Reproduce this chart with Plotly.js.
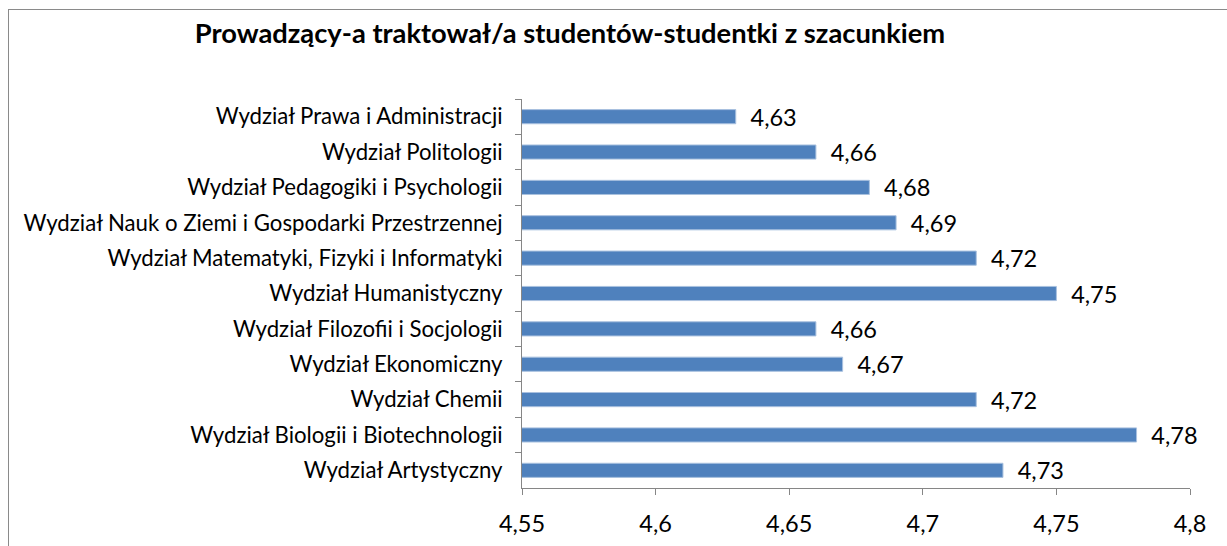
<!DOCTYPE html>
<html>
<head>
<meta charset="utf-8">
<script src="https://cdn.plot.ly/plotly-3.0.1.min.js"></script>
<style>
  html, body { margin: 0; padding: 0; background: #fff; overflow: hidden; }
  #chart { width: 1227px; height: 546px; position: absolute; left: 0; top: 0; }
  #frame { position: absolute; left: 8px; top: 9px; width: 1400px; height: 800px;
           border: 1.5px solid #8a8a8a; pointer-events: none; box-sizing: border-box; }
</style>
</head>
<body>
<div id="chart"></div>
<div id="frame"></div>
<script>
const categories = [
  "Wydział Prawa i Administracji",
  "Wydział Politologii",
  "Wydział Pedagogiki i Psychologii",
  "Wydział Nauk o Ziemi i Gospodarki Przestrzennej",
  "Wydział Matematyki, Fizyki i Informatyki",
  "Wydział Humanistyczny",
  "Wydział Filozofii i Socjologii",
  "Wydział Ekonomiczny",
  "Wydział Chemii",
  "Wydział Biologii i Biotechnologii",
  "Wydział Artystyczny"
];
const values = [4.63, 4.66, 4.68, 4.69, 4.72, 4.75, 4.66, 4.67, 4.72, 4.78, 4.73];
const valueLabels = ["4,63", "4,66", "4,68", "4,69", "4,72", "4,75", "4,66", "4,67", "4,72", "4,78", "4,73"];
const xTickVals = [4.55, 4.6, 4.65, 4.7, 4.75, 4.8];
const xTickText = ["4,55", "4,6", "4,65", "4,7", "4,75", "4,8"];
const titleText = "Prowadzący-a traktował/a studentów-studentki z szacunkiem";

const FONT = "Lato, 'Open Sans', sans-serif";

const trace = {
  type: "bar",
  orientation: "h",
  y: categories,
  x: values,
  width: 0.4,
  marker: { color: "#4F81BD", line: { color: "#A9C1DF", width: 1 } },
  text: valueLabels,
  texttemplate: "\u2002%{text}",
  textposition: "outside",
  cliponaxis: false,
  constraintext: "none",
  textfont: { family: FONT, size: 23.5, color: "#000" },
  hoverinfo: "skip"
};

const layout = {
  width: 1227,
  height: 546,
  margin: { l: 522, r: 37, t: 99, b: 58 },
  paper_bgcolor: "#fff",
  plot_bgcolor: "#fff",
  showlegend: false,
  separators: ", ",
  title: {
    text: "<b>" + titleText + "</b>",
    font: { family: FONT, size: 27.3, color: "#000" },
    x: 570 / 1227, xanchor: "center", xref: "container",
    y: 1 - 33 / 546, yanchor: "middle", yref: "container"
  },
  xaxis: {
    range: [4.55, 4.8],
    tickvals: xTickVals,
    ticktext: xTickText,
    showgrid: false,
    zeroline: false,
    showline: true,
    linecolor: "#868686",
    linewidth: 1,
    ticks: "outside",
    ticklen: 6,
    tickcolor: "#868686",
    ticklabelstandoff: 9,
    tickfont: { family: FONT, size: 23.5, color: "#000" },
    fixedrange: true
  },
  yaxis: {
    type: "category",
    autorange: "reversed",
    showgrid: false,
    zeroline: false,
    showline: true,
    linecolor: "#868686",
    linewidth: 1,
    ticks: "outside",
    tickson: "boundaries",
    ticklen: 6,
    tickcolor: "#868686",
    ticklabelstandoff: 14,
    tickfont: { family: FONT, size: 22.2, color: "#000" },
    fixedrange: true
  }
};

Plotly.newPlot("chart", [trace], layout, { displayModeBar: false, staticPlot: true });
</script>
</body>
</html>
